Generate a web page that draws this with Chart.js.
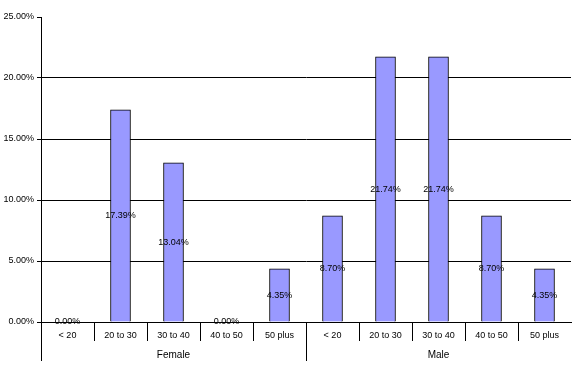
<!DOCTYPE html>
<html>
<head>
<meta charset="utf-8">
<script src="https://cdn.jsdelivr.net/npm/chart.js@4"></script>
<style>
  html, body { margin: 0; padding: 0; background: #fff; }
  #wrap { width: 577px; height: 365px; }
</style>
</head>
<body>
<div id="wrap"><canvas id="chart"></canvas></div>
<script>
const ageBands = ['< 20', '20 to 30', '30 to 40', '40 to 50', '50 plus'];
const genders = ['Female', 'Male'];
const femaleValues = [0.00, 17.39, 13.04, 0.00, 4.35];
const maleValues = [8.70, 21.74, 21.74, 8.70, 4.35];
const yTicks = [0, 5, 10, 15, 20, 25];

const labels = [];
genders.forEach(g => ageBands.forEach(a => labels.push(a)));
const values = femaleValues.concat(maleValues);

const FONT = '"Liberation Sans", Arial, sans-serif';

// Two-level category axis plus value labels in bar middles
const excelAxis = {
    id: 'excelAxis',
    afterDatasetsDraw(chart) {
        const ctx = chart.ctx;
        const area = chart.chartArea;
        const x = chart.scales.x;
        const meta = chart.getDatasetMeta(0);
        const n = labels.length;
        const step = (area.right - area.left) / n;
        const bottom = area.bottom;

        ctx.save();
        ctx.strokeStyle = '#000';
        ctx.lineWidth = 1;

        // value labels
        ctx.fillStyle = '#000';
        ctx.font = '9px ' + FONT;
        ctx.textAlign = 'center';
        ctx.textBaseline = 'middle';
        meta.data.forEach((bar, i) => {
            const yMid = (bar.y + bar.base) / 2;
            ctx.fillText(values[i].toFixed(2) + '%', bar.x, yMid);
        });

        // dividers between categories
        for (let i = 0; i < n; i++) {
            const xp = Math.round(area.left + i * step) + 0.5;
            const yEnd = (i % ageBands.length === 0) ? bottom + 39 : bottom + 19;
            ctx.beginPath();
            ctx.moveTo(xp, bottom);
            ctx.lineTo(xp, yEnd);
            ctx.stroke();
        }

        // category labels
        labels.forEach((lab, i) => {
            ctx.fillText(lab, x.getPixelForValue(i), bottom + 14);
        });

        // group labels
        ctx.font = '10px ' + FONT;
        genders.forEach((g, gi) => {
            const first = gi * ageBands.length;
            const last = first + ageBands.length - 1;
            const cx = (x.getPixelForValue(first) + x.getPixelForValue(last)) / 2;
            ctx.fillText(g, cx, bottom + 33);
        });
        ctx.restore();
    }
};

const ctx = document.getElementById('chart').getContext('2d');
new Chart(ctx, {
    type: 'bar',
    data: {
        labels: labels,
        datasets: [{
            data: values,
            backgroundColor: '#9999FF',
            borderColor: '#000',
            borderWidth: 1,
            barThickness: 20
        }]
    },
    options: {
        responsive: true,
        maintainAspectRatio: false,
        animation: false,
        layout: { padding: { top: 17, right: 6, left: 0, bottom: 0 } },
        plugins: {
            legend: { display: false },
            tooltip: { enabled: false }
        },
        scales: {
            x: {
                grid: { display: false },
                border: { display: true, color: '#000' },
                ticks: { display: false },
                afterFit(scale) { scale.height = 43; }
            },
            y: {
                min: 0,
                max: 25,
                afterBuildTicks(scale) {
                    scale.ticks = yTicks.map(v => ({ value: v }));
                },
                grid: {
                    color: c => (c.tick && c.tick.value === 25) ? 'rgba(0,0,0,0)' : '#000',
                    tickColor: '#000',
                    tickLength: 4,
                    lineWidth: 1
                },
                border: { display: true, color: '#000' },
                ticks: {
                    color: '#000',
                    padding: 3,
                    font: { family: FONT, size: 9 },
                    callback: v => Number(v).toFixed(2) + '%'
                },
                afterFit(scale) { scale.width = 41; }
            }
        }
    },
    plugins: [excelAxis, {
        id: 'axisExtend',
        afterDraw(chart) {
            const c = chart.ctx;
            const a = chart.chartArea;
            c.save();
            c.strokeStyle = '#000';
            c.lineWidth = 1;
            c.beginPath();
            c.moveTo(Math.round(a.left) + 0.5, a.bottom);
            c.lineTo(Math.round(a.left) + 0.5, a.bottom + 39);
            c.stroke();
            c.restore();
        }
    }]
});
</script>
</body>
</html>
